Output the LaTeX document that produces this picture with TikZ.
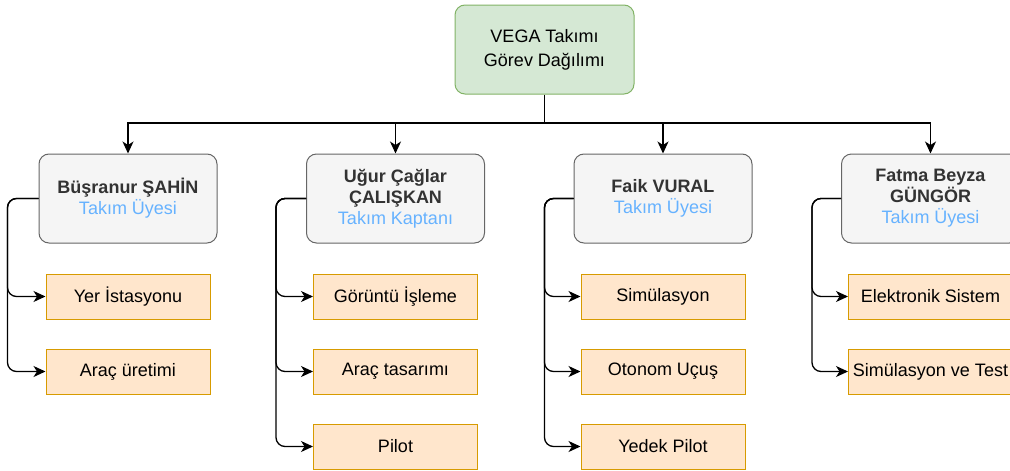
\documentclass[tikz,border=0pt]{standalone}
\usepackage{fontspec}
\setmainfont{Liberation Sans}
\usepackage{tikz}
\usetikzlibrary{arrows.meta,positioning}
\definecolor{headfill}{HTML}{D5E8D4}
\definecolor{headline}{HTML}{82B366}
\definecolor{memberfill}{HTML}{F5F5F5}
\definecolor{memberline}{HTML}{666666}
\definecolor{namecol}{HTML}{333333}
\definecolor{rolecol}{HTML}{66B2FF}
\definecolor{taskfill}{HTML}{FFE6CC}
\definecolor{taskline}{HTML}{D79B00}

\begin{document}
\begin{tikzpicture}[x=1pt,y=-1pt,
  head/.style={draw=headline,fill=headfill,rounded corners=10pt,line width=1pt,minimum width=179pt,minimum height=89pt,align=center,font=\fontsize{18}{24}\selectfont},
  member/.style={draw=memberline,fill=memberfill,rounded corners=10pt,line width=1pt,minimum width=178pt,minimum height=89pt,align=center,text=namecol,font=\fontsize{18}{21}\selectfont},
  task/.style={draw=taskline,fill=taskfill,line width=1pt,minimum width=164pt,minimum height=45pt,font=\fontsize{18}{21}\selectfont},
  link/.style={line width=1.3pt,-{Stealth[length=12pt,width=11pt,inset=3.5pt]}},
  lane/.style={link,rounded corners=9pt},
  node distance=29pt]
\useasboundingbox (0,0) rectangle (1010,471);
\node[head] (top) at (544.5,49.5) {VEGA Takımı\\Görev Dağılımı};
\node[member] (m1) at (128,198.5) {\textbf{Büşranur ŞAHİN}\\\textcolor{rolecol}{Takım Üyesi}};
\node[member] (m2) at (395.5,198.5) {\textbf{Uğur Çağlar}\\\textbf{ÇALIŞKAN}\\\textcolor{rolecol}{Takım Kaptanı}};
\node[member] (m3) at (663,198.5) {\textbf{Faik VURAL}\\\textcolor{rolecol}{Takım Üyesi}};
\node[member] (m4) at (930.5,198.5) {\textbf{Fatma Beyza}\\\textbf{GÜNGÖR}\\\textcolor{rolecol}{Takım Üyesi}};
\node[task,below=30pt of m1] (t11) {Yer İstasyonu};
\node[task,below=of t11] (t12) {Araç üretimi};
\node[task,below=30pt of m2] (t21) {Görüntü İşleme};
\node[task,below=of t21] (t22) {Araç tasarımı};
\node[task,below=of t22] (t23) {Pilot};
\node[task,below=30pt of m3] (t31) {Simülasyon};
\node[task,below=of t31] (t32) {Otonom Uçuş};
\node[task,below=of t32] (t33) {Yedek Pilot};
\node[task,below=30pt of m4] (t41) {Elektronik Sistem};
\node[task,below=of t41] (t42) {Simülasyon ve Test};
\coordinate (bus) at (544.5,123);
\draw[line width=1.3pt] (top.south) -- (bus);
\foreach \m in {m1,m2,m3,m4}
  \draw[link] (bus) -| (\m.north);
\draw[lane] (m1.west) -- ++(-31,0) |- (t11.west);
\draw[lane] (m1.west) -- ++(-31,0) |- (t12.west);
\draw[lane] (m2.west) -- ++(-30,0) |- (t21.west);
\draw[lane] (m2.west) -- ++(-30,0) |- (t22.west);
\draw[lane] (m2.west) -- ++(-30,0) |- (t23.west);
\draw[lane] (m3.west) -- ++(-29,0) |- (t31.west);
\draw[lane] (m3.west) -- ++(-29,0) |- (t32.west);
\draw[lane] (m3.west) -- ++(-29,0) |- (t33.west);
\draw[lane] (m4.west) -- ++(-29,0) |- (t41.west);
\draw[lane] (m4.west) -- ++(-29,0) |- (t42.west);
\end{tikzpicture}
\end{document}
